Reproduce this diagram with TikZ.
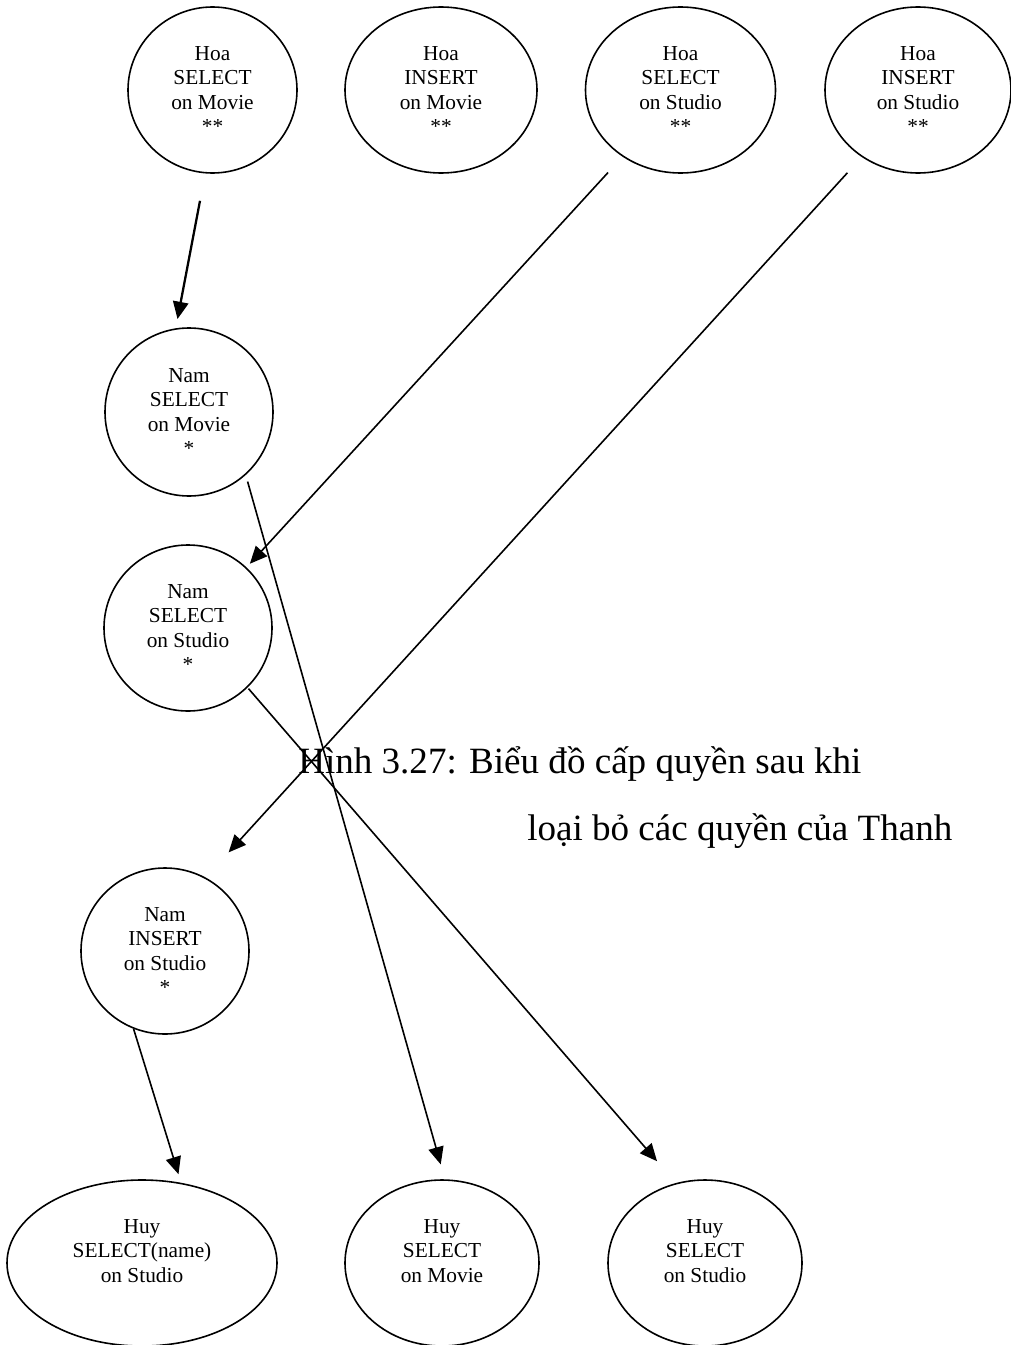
\documentclass[tikz,border=0pt]{standalone}
\usepackage{fontspec}
\setmainfont{Liberation Serif}
\usetikzlibrary{shapes.geometric, arrows.meta, positioning}

\tikzset{
  priv/.style={ellipse, draw, line width=1.2pt, inner sep=0pt, minimum height=124.5pt, align=center, font=\fontsize{16}{18.4}\selectfont},
  grant/.style={line width=1.2pt, -{Triangle[length=13pt,width=11.5pt]}},
  caption/.style={anchor=base west, inner sep=0pt, font=\fontsize{27.8}{32}\selectfont}
}

\begin{document}
\begin{tikzpicture}[x=0.75pt, y=-0.75pt]
\useasboundingbox (0,0) rectangle (1010,1345);
\foreach \x/\w/\nm/\txt in {212.5/126.75/hoa-sel-movie/{SELECT\\on Movie}, 441/144/hoa-ins-movie/{INSERT\\on Movie}, 680.5/142.5/hoa-sel-studio/{SELECT\\on Studio}, 918/139.5/hoa-ins-studio/{INSERT\\on Studio}}{
  \node[priv, minimum width=\w pt] at (\x,90) (\nm) {Hoa\\\txt\\**};
};
\node[priv, minimum width=126pt, minimum height=126pt] at (189,412) (nam-sel-movie) {Nam\\SELECT\\on Movie\\*};
\node[priv, minimum width=126pt] at (188,628) (nam-sel-studio) {Nam\\SELECT\\on Studio\\*};
\node[priv, minimum width=126pt] at (165,951) (nam-ins-studio) {Nam\\INSERT\\on Studio\\*};
\node[priv, minimum width=202.5pt] at (142,1263) (huy-name-studio) {Huy\\SELECT(name)\\on Studio\\~};
\node[priv, minimum width=145.5pt] at (442,1263) (huy-sel-movie) {Huy\\SELECT\\on Movie\\~};
\node[priv, minimum width=145.5pt] at (705,1263) (huy-sel-studio) {Huy\\SELECT\\on Studio\\~};

\node[caption] at (298,773) (cap-a) {Hình 3.27: Biểu đồ cấp quyền sau khi};
\node[caption] at (527,840) (cap-b) {loại bỏ các quyền của Thanh};

\draw[grant, line width=1.7pt, shorten <=20.85pt, shorten >=7pt] (hoa-sel-movie.265) -- (nam-sel-movie.99.4);
\draw[grant, shorten <=16.1pt, shorten >=3.7pt] (hoa-sel-studio.229) -- (nam-sel-studio.46.3);
\draw[grant, shorten <=16pt, shorten >=25.5pt] (hoa-ins-studio.230.4) -- (nam-ins-studio.61.2);
\draw[grant, shorten <=5.1pt, shorten >=11.6pt] (nam-sel-movie.312.9) -- (huy-sel-movie.88.5);
\draw[grant, shorten <=1pt, shorten >=21.6pt] (nam-sel-studio.315) -- (huy-sel-studio.110.2);
\draw[grant, shorten >=6.7pt] (nam-ins-studio.248.4) -- (huy-name-studio.64.1);
\end{tikzpicture}
\end{document}
